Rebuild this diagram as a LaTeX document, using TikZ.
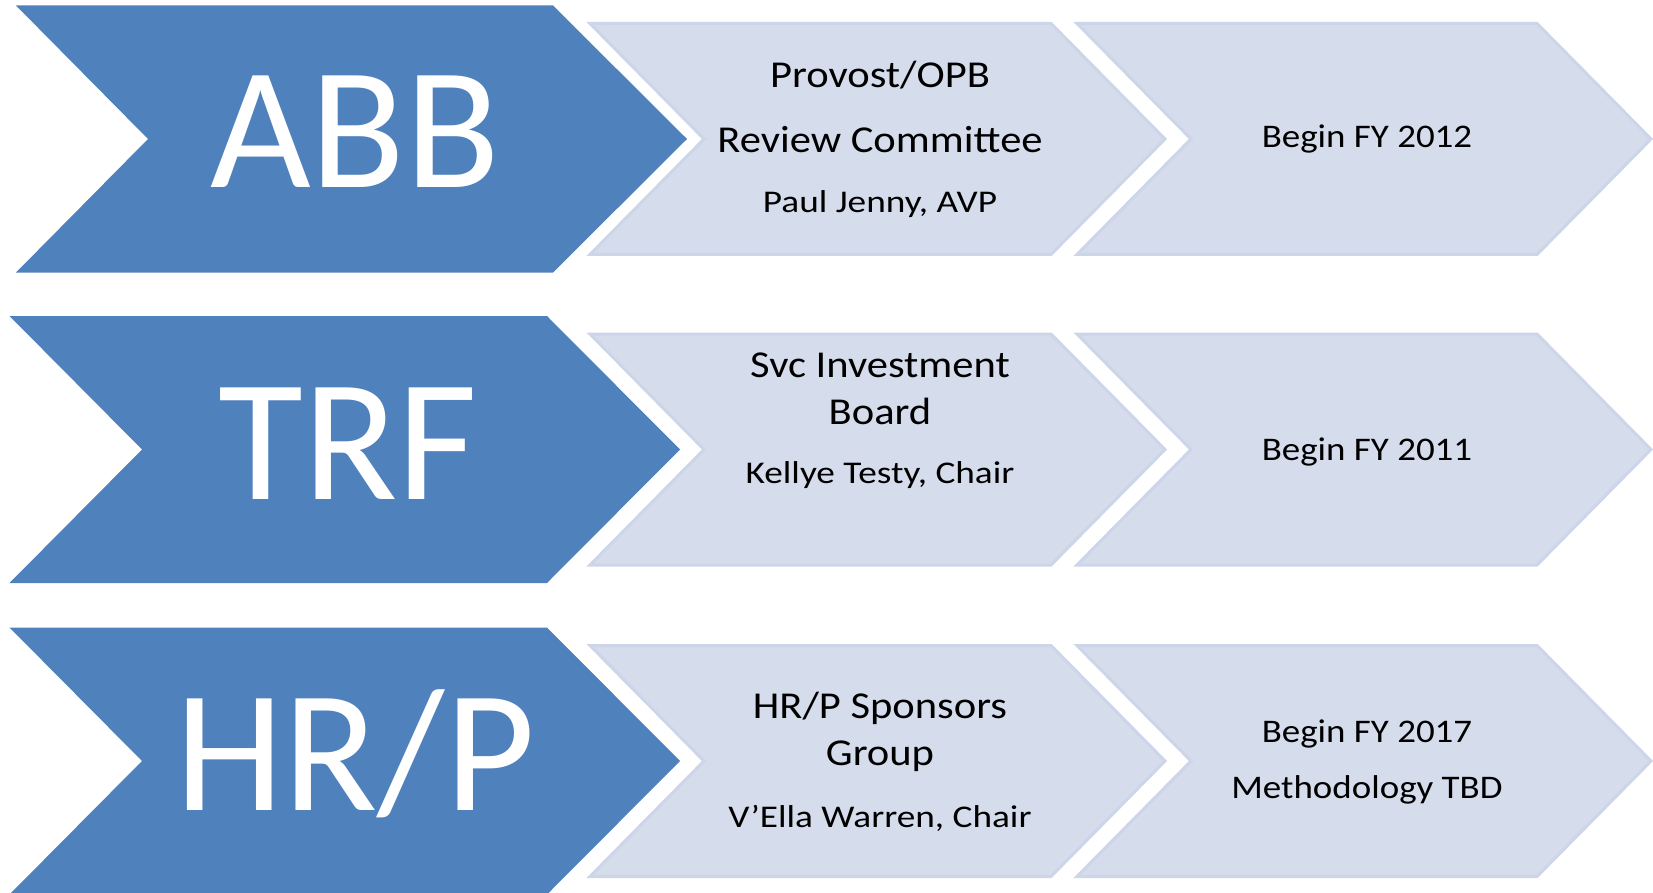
\documentclass[tikz,border=0pt]{standalone}
\usepackage{fontspec}
\setmainfont{Carlito}
\newfontfamily\widefont{Carlito}[FakeStretch=1.12]
\newfontfamily\widerfont{Carlito}[FakeStretch=1.18]
\definecolor{leadblue}{HTML}{4F81BD}
\definecolor{stagefill}{HTML}{D5DCEB}
\definecolor{stageline}{HTML}{CDD5E8}

\tikzset{
  lead/.style={fill=leadblue},
  stage/.style={fill=stagefill, draw=stageline, line width=1.5pt},
  bigtxt/.style={anchor=base, inner sep=0pt, text=white, font=\fontsize{87}{87}\selectfont},
  bodytxt/.style={anchor=base, inner sep=0pt, font=\widefont\fontsize{19}{22}\selectfont},
  nametxt/.style={anchor=base, inner sep=0pt, font=\widerfont\fontsize{15.8}{19}\selectfont},
  datetxt/.style={anchor=base, inner sep=0pt, font=\widefont\fontsize{16.5}{19}\selectfont}
}

\begin{document}
\begin{tikzpicture}[x=0.5pt, y=-0.5pt]
    \useasboundingbox (0,0) rectangle (1653,893);

    % Row 1: ABB
    \begin{scope}[shift={(0,139)}]
        \fill[lead] (16,-133.5) -- (553,-133.5) -- (687,0) -- (553,133.5) -- (16,133.5) -- (148,0) -- cycle;
        \filldraw[stage] (590,-115.5) -- (1051,-115.5) -- (1165,0) -- (1051,115.5) -- (590,115.5) -- (704,0) -- cycle;
        \filldraw[stage] (1077,-115.5) -- (1537,-115.5) -- (1651,0) -- (1537,115.5) -- (1077,115.5) -- (1191,0) -- cycle;

        \node[bigtxt] (abb) at (355,49) {ABB};
        \node[bodytxt] (abbOwner) at (880,-51) {Provost/OPB};
        \node[bodytxt] (abbGroup) at (880,14) {Review Committee};
        \node[nametxt] (abbChair) at (880,74) {Paul Jenny, AVP};
        \node[datetxt] (abbStart) at (1367,9) {Begin FY 2012};
    \end{scope}

    % Row 2: TRF
    \begin{scope}[shift={(0,449.5)}]
        \fill[lead] (9.5,-133.5) -- (547,-133.5) -- (680,0) -- (547,133.5) -- (9.5,133.5) -- (142,0) -- cycle;
        \filldraw[stage] (590,-115.5) -- (1051,-115.5) -- (1165,0) -- (1051,115.5) -- (590,115.5) -- (704,0) -- cycle;
        \filldraw[stage] (1077,-115.5) -- (1537,-115.5) -- (1651,0) -- (1537,115.5) -- (1077,115.5) -- (1191,0) -- cycle;

        \node[bigtxt] (trf) at (348,49.5) {TRF};
        \node[bodytxt] (trfOwner) at (880,-72.5) {Svc Investment};
        \node[bodytxt] (trfGroup) at (880,-25.5) {Board};
        \node[nametxt] (trfChair) at (880,33.5) {Kellye Testy, Chair};
        \node[datetxt] (trfStart) at (1367,10.5) {Begin FY 2011};
    \end{scope}

    % Row 3: HR/P
    \begin{scope}[shift={(0,761)}]
        \fill[lead] (9.5,-133.5) -- (547,-133.5) -- (680,0) -- (547,133.5) -- (9.5,133.5) -- (142,0) -- cycle;
        \filldraw[stage] (590,-115.5) -- (1051,-115.5) -- (1165,0) -- (1051,115.5) -- (590,115.5) -- (704,0) -- cycle;
        \filldraw[stage] (1077,-115.5) -- (1537,-115.5) -- (1651,0) -- (1537,115.5) -- (1077,115.5) -- (1191,0) -- cycle;

        \node[bigtxt] (hrp) at (355,49) {HR/P};
        \node[bodytxt] (hrpOwner) at (880,-43) {HR/P Sponsors};
        \node[bodytxt] (hrpGroup) at (880,4) {Group};
        \node[nametxt] (hrpChair) at (880,66) {V’Ella Warren, Chair};
        \node[datetxt] (hrpStart) at (1367,-19) {Begin FY 2017};
        \node[datetxt] (hrpMethod) at (1367,37) {Methodology TBD};
    \end{scope}
\end{tikzpicture}
\end{document}
